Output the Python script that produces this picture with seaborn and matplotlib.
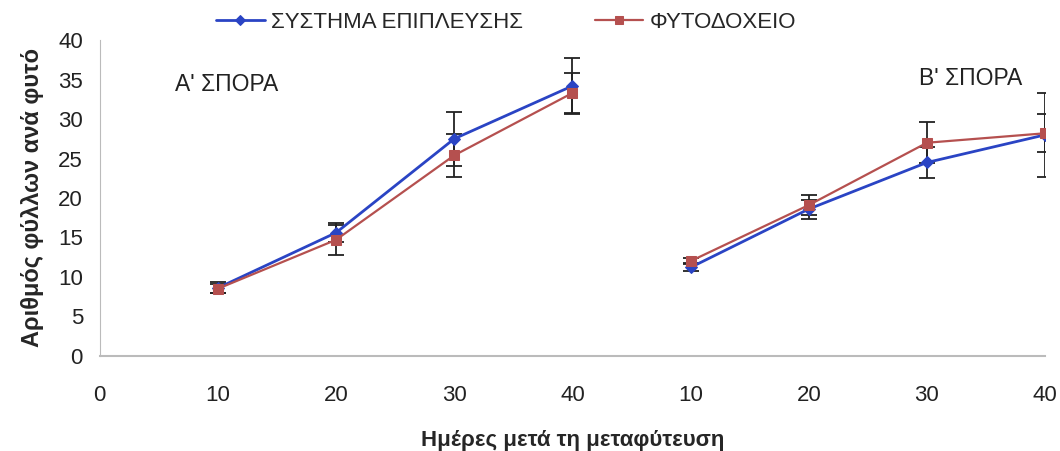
import matplotlib
matplotlib.use("Agg")
import matplotlib.pyplot as plt
import numpy as np
import pandas as pd
import seaborn as sns

sns.set_style("white")
plt.rcParams['font.family'] = ['Liberation Sans', 'DejaVu Sans']

# x categories (two sowings, days after transplanting)
tick_labels = ['0', '10', '20', '30', '40', '10', '20', '30', '40']
days = [10, 20, 30, 40, 10, 20, 30, 40]
sowing = ['A', 'A', 'A', 'A', 'B', 'B', 'B', 'B']

# leaves per plant
float_system = [8.6, 15.6, 27.5, 34.2, 11.2, 18.6, 24.5, 28.0]
float_system_err = [0.7, 1.2, 3.4, 3.5, 0.5, 1.2, 2.0, 5.3]
seedbed = [8.5, 14.7, 25.4, 33.3, 12.0, 19.1, 27.0, 28.2]
seedbed_err = [0.6, 1.9, 2.7, 2.5, 0.4, 1.3, 2.6, 2.4]

names = ['ΣΥΣΤΗΜΑ ΕΠΙΠΛΕΥΣΗΣ', 'ΦΥΤΟΔΟΧΕΙΟ']
colors = {'ΣΥΣΤΗΜΑ ΕΠΙΠΛΕΥΣΗΣ': '#2a44c4', 'ΦΥΤΟΔΟΧΕΙΟ': '#b5504f'}
markers = {'ΣΥΣΤΗΜΑ ΕΠΙΠΛΕΥΣΗΣ': 'D', 'ΦΥΤΟΔΟΧΕΙΟ': 's'}
widths = {'ΣΥΣΤΗΜΑ ΕΠΙΠΛΕΥΣΗΣ': 2.0, 'ΦΥΤΟΔΟΧΕΙΟ': 1.6}

pos = list(range(1, len(days) + 1))
df = pd.DataFrame({
    'pos': pos * 2,
    'sowing': sowing * 2,
    'series': [names[0]] * len(pos) + [names[1]] * len(pos),
    'value': float_system + seedbed,
    'err': float_system_err + seedbed_err,
})

fig = plt.figure(figsize=(10.6, 4.51), dpi=100)
ax = fig.add_axes([0.094, 0.211, 0.892, 0.700])

for name in names:
    sub = df[df.series == name]
    ax.errorbar(sub.pos, sub.value, yerr=sub.err, fmt='none', ecolor='#222222',
                elinewidth=1.3, capsize=6, capthick=1.3, zorder=2)
    for s in ['A', 'B']:
        seg = sub[sub.sowing == s]
        sns.lineplot(data=seg, x='pos', y='value', ax=ax, color=colors[name],
                     marker=markers[name], markersize=7 if name == names[1] else 6,
                     markeredgecolor=colors[name], linewidth=widths[name],
                     label=name if s == 'A' else None, zorder=3)

ax.set_xlim(0, 8)
ax.set_ylim(0, 40)
ax.set_xticks(range(len(tick_labels)))
ax.set_xticklabels(tick_labels)
ax.set_yticks(range(0, 41, 5))
ax.tick_params(axis='y', length=8, color='#aaaaaa', labelsize=16, labelcolor='#222222', pad=4)
ax.tick_params(axis='x', length=0, labelsize=16, labelcolor='#222222', pad=21)

for side in ['top', 'right']:
    ax.spines[side].set_visible(False)
ax.spines['left'].set_color('#bbbbbb')
ax.spines['bottom'].set_color('#bbbbbb')
ax.spines['bottom'].set_linewidth(1.5)

ax.set_xlabel('Ημέρες μετά τη μεταφύτευση', fontsize=16, fontweight='bold', labelpad=17)
ax.set_ylabel('Αριθμός φύλλων ανά φυτό', fontsize=17, fontweight='bold', labelpad=10)

ax.text(0.64, 34.4, "Α' ΣΠΟΡΑ", fontsize=16.5, color='#222222', va='center')
ax.text(6.93, 35.2, "Β' ΣΠΟΡΑ", fontsize=16.5, color='#222222', va='center')

leg = ax.legend(loc='lower center', bbox_to_anchor=(0.43, 0.995), ncol=2, frameon=False,
                fontsize=16, handlelength=2.2, handletextpad=0.3, columnspacing=3.2,
                markerscale=0.8, borderaxespad=0.0)

fig.savefig('out.png', dpi=100)
